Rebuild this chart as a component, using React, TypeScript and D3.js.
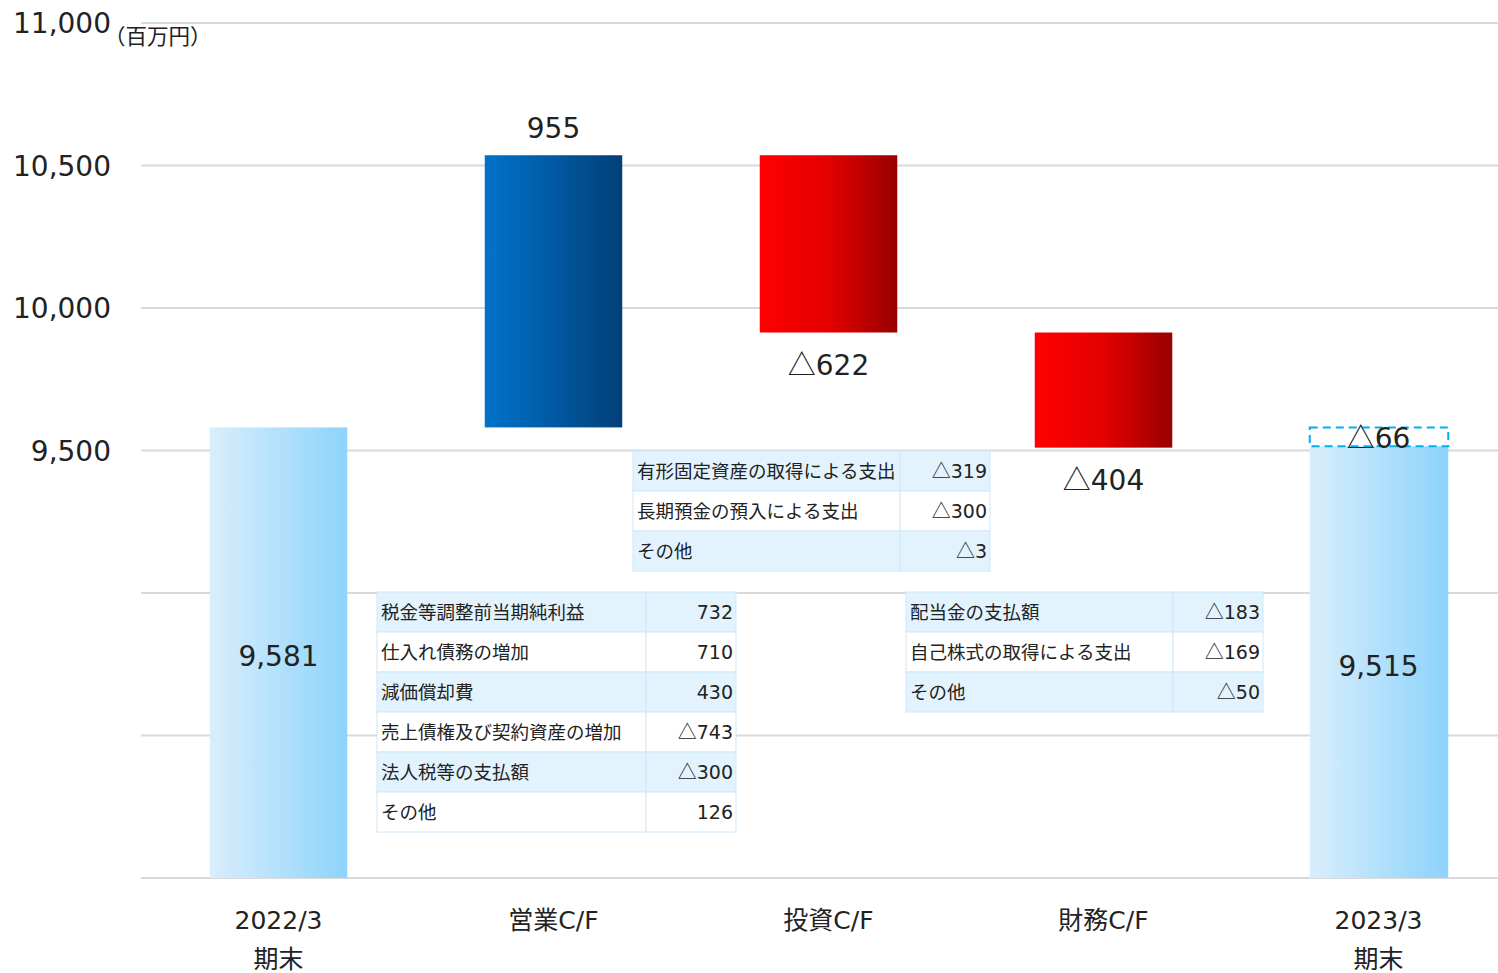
import React from "react";
import * as d3 from "d3";

const categories = ["2022/3\n期末", "営業C/F", "投資C/F", "財務C/F", "2023/3\n期末"];
const startValue = 9581;
const flows = [955, -622, -404];
const endValue = 9515;
const diffValue = -66;
const yTicks = [8000, 8500, 9000, 9500, 10000, 10500, 11000];
const labeledTicks = [9500, 10000, 10500, 11000];
const unit = "（百万円）";

const opItems = ["税金等調整前当期純利益", "仕入れ債務の増加", "減価償却費", "売上債権及び契約資産の増加", "法人税等の支払額", "その他"];
const opValues = [732, 710, 430, -743, -300, 126];
const invItems = ["有形固定資産の取得による支出", "長期預金の預入による支出", "その他"];
const invValues = [-319, -300, -3];
const finItems = ["配当金の支払額", "自己株式の取得による支出", "その他"];
const finValues = [-183, -169, -50];

const W = 1498, H = 973;
const FONT = "'DejaVu Sans', 'Noto Sans CJK JP', sans-serif";
const CJK = "'Noto Sans CJK JP', sans-serif";

function Num({ v }: { v: number }) {
  const s = d3.format(",")(Math.abs(v));
  return v < 0 ? (
    <>
      <tspan fontFamily={CJK}>△</tspan>
      <tspan>{s}</tspan>
    </>
  ) : (
    <tspan>{s}</tspan>
  );
}

function Table({ x, y, items, values, w1, w2 }: { x: number; y: number; items: string[]; values: number[]; w1: number; w2: number }) {
  const rh = 40;
  return (
    <g>
      {items.map((it, i) => (
        <g key={i}>
          <rect x={x} y={y + i * rh} width={w1} height={rh} fill={i % 2 === 0 ? "#e3f3fd" : "#ffffff"} stroke="#cde8fb" strokeWidth={1} />
          <rect x={x + w1} y={y + i * rh} width={w2} height={rh} fill={i % 2 === 0 ? "#e3f3fd" : "#ffffff"} stroke="#cde8fb" strokeWidth={1} />
          <text x={x + 4} y={y + i * rh + rh / 2} dy="0.36em" fontSize={18.5} fill="#222">{it}</text>
          <text x={x + w1 + w2 - 3} y={y + i * rh + rh / 2} dy="0.36em" fontSize={19} fill="#222" textAnchor="end"><Num v={values[i]} /></text>
        </g>
      ))}
    </g>
  );
}

export default function App() {
  const y = d3.scaleLinear().domain([8000, 11000]).range([878, 23]);
  const x = d3.scaleBand<string>().domain(categories).range([141, 1516]).paddingInner(0.5).paddingOuter(0.25);
  const bw = x.bandwidth();

  const levels: number[] = [startValue];
  flows.forEach((f) => levels.push(levels[levels.length - 1] + f));

  return (
    <svg width={W} height={H} style={{ display: "block", position: "absolute", left: 0, top: 0, fontFamily: FONT }}>
      <defs>
        <linearGradient id="gLight" x1="0" x2="1" y1="0" y2="0">
          <stop offset="0" stopColor="#d9eefc" />
          <stop offset="1" stopColor="#8dd3fb" />
        </linearGradient>
        <linearGradient id="gBlue" x1="0" x2="1" y1="0" y2="0">
          <stop offset="0" stopColor="#0073cc" />
          <stop offset="1" stopColor="#023f78" />
        </linearGradient>
        <linearGradient id="gRed" x1="0" x2="1" y1="0" y2="0">
          <stop offset="0" stopColor="#ff0000" />
          <stop offset="0.5" stopColor="#e40000" />
          <stop offset="1" stopColor="#990000" />
        </linearGradient>
      </defs>
      <rect width={W} height={H} fill="#fff" />
      {yTicks.map((t) => (
        <line key={t} x1={141} x2={1498} y1={y(t)} y2={y(t)} stroke="#d9d9d9" strokeWidth={2} />
      ))}
      {labeledTicks.map((t) => (
        <text key={t} x={111} y={y(t)} dy="0.36em" textAnchor="end" fontSize={28} fill="#222">{d3.format(",")(t)}</text>
      ))}
      <text x={104} y={36} dy="0.36em" fontSize={21.5} fill="#222" fontFamily={CJK}>{unit}</text>

      <rect x={x(categories[0])} y={y(startValue)} width={bw} height={y(8000) - y(startValue)} fill="url(#gLight)" />
      <text x={x(categories[0])! + bw / 2} y={(y(startValue) + y(8000)) / 2 + 3} dy="0.36em" textAnchor="middle" fontSize={28} fill="#222"><Num v={startValue} /></text>

      {flows.map((f, i) => {
        const a = levels[i], b = levels[i + 1];
        const top = y(Math.max(a, b)), bot = y(Math.min(a, b));
        const cx = x(categories[i + 1])! + bw / 2;
        return (
          <g key={i}>
            <rect x={x(categories[i + 1])} y={top} width={bw} height={bot - top} fill={f >= 0 ? "url(#gBlue)" : "url(#gRed)"} />
            <text x={cx} y={f >= 0 ? top - 27 : bot + 32} dy="0.36em" textAnchor="middle" fontSize={28} fill="#222"><Num v={f} /></text>
          </g>
        );
      })}

      <rect x={x(categories[4])} y={y(endValue)} width={bw + 1} height={y(8000) - y(endValue)} fill="url(#gLight)" />
      <rect x={x(categories[4])} y={y(startValue)} width={bw + 1} height={y(endValue) - y(startValue)} fill="none" stroke="#00b0f0" strokeWidth={2} strokeDasharray="8,5" />
      <text x={x(categories[4])! + bw / 2} y={(y(startValue) + y(endValue)) / 2 + 1} dy="0.36em" textAnchor="middle" fontSize={28} fill="#222"><Num v={diffValue} /></text>
      <text x={x(categories[4])! + bw / 2} y={(y(endValue) + y(8000)) / 2 + 4} dy="0.36em" textAnchor="middle" fontSize={28} fill="#222"><Num v={endValue} /></text>

      {categories.map((c) => {
        const lines = c.split("\n");
        return (
          <text key={c} x={x(c)! + bw / 2} textAnchor="middle" fontSize={25} fill="#222">
            {lines.map((l, j) => (
              <tspan key={j} x={x(c)! + bw / 2} y={920 + j * 39} dy="0.36em">{l}</tspan>
            ))}
          </text>
        );
      })}

      <Table x={377} y={592} items={opItems} values={opValues} w1={269} w2={90} />
      <Table x={633} y={451} items={invItems} values={invValues} w1={267} w2={90} />
      <Table x={906} y={592} items={finItems} values={finValues} w1={267} w2={90} />
    </svg>
  );
}
